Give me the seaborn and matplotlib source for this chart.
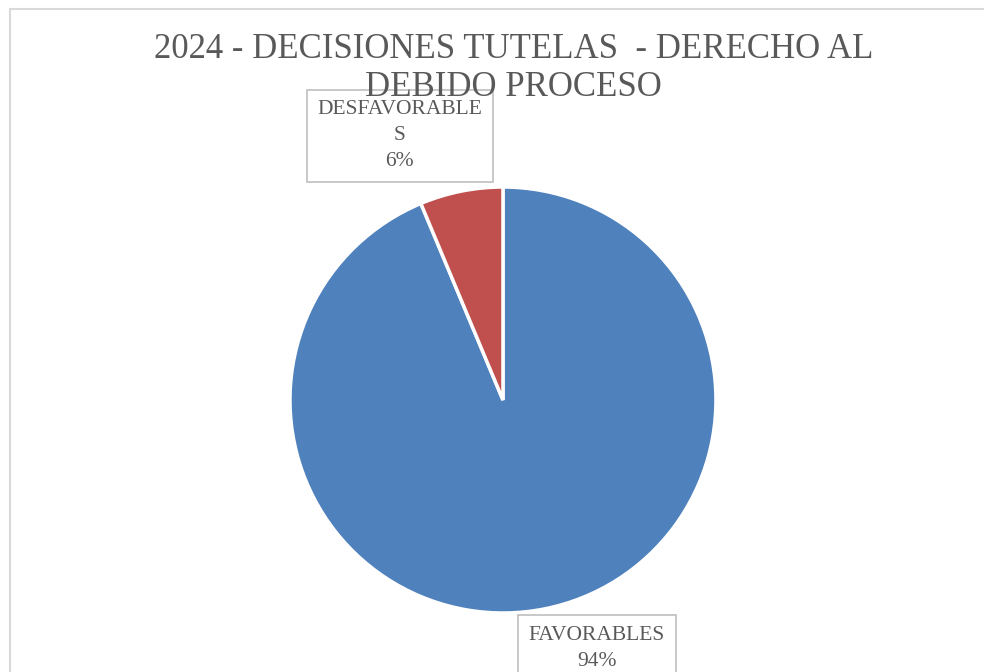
"""Pie chart: 2024 decisiones tutelas - derecho al debido proceso."""

import matplotlib

matplotlib.use("Agg")
import matplotlib.pyplot as plt
import seaborn as sns
from matplotlib.patches import Rectangle

# data
categories = ["FAVORABLES", "DESFAVORABLES"]
shares = [93.7, 6.3]
pct_labels = ["94%", "6%"]
slice_colors = ["#4F81BD", "#C0504D"]

TITLE = "2024 - DECISIONES TUTELAS  - DERECHO AL\nDEBIDO PROCESO"
TEXT_COLOR = "#595959"


def main() -> None:
    sns.set_theme(style="white")
    plt.rcParams["font.family"] = ["Liberation Serif", "DejaVu Serif"]

    fig = plt.figure(figsize=(9.84, 6.72), dpi=100)
    fig.patch.set_facecolor("white")

    # light chart-area frame that runs off the right/bottom edges
    fig.patches.append(
        Rectangle(
            (9.5 / 984, -0.1),
            1.2,
            1.1 - 9.5 / 672,
            transform=fig.transFigure,
            fill=False,
            edgecolor="#D9D9D9",
            linewidth=1.5,
        )
    )

    ax = fig.add_axes([0.2947, 0.0878, 0.4329, 0.6339])
    ax.pie(
        shares,
        colors=slice_colors,
        startangle=90,
        counterclock=False,
        radius=1.0,
        wedgeprops={"edgecolor": "white", "linewidth": 2.5},
    )
    ax.set_xlim(-1, 1)
    ax.set_ylim(-1, 1)
    ax.set_aspect("equal")
    ax.axis("off")

    box = dict(boxstyle="square,pad=0.5", facecolor="white", edgecolor="#BFBFBF", linewidth=1.2)
    label_pos = {"FAVORABLES": (0.441, -1.165), "DESFAVORABLES": (-0.484, 1.24)}
    label_text = {"FAVORABLES": "FAVORABLES", "DESFAVORABLES": "DESFAVORABLE\nS"}
    for name, pct in zip(categories, pct_labels):
        x, y = label_pos[name]
        ax.text(
            x,
            y,
            f"{label_text[name]}\n{pct}",
            ha="center",
            va="center",
            fontsize=15.5,
            color=TEXT_COLOR,
            linespacing=1.5,
            bbox=box,
            clip_on=False,
            zorder=5,
        )

    fig.text(
        0.522,
        0.898,
        TITLE,
        ha="center",
        va="center",
        fontsize=25,
        color=TEXT_COLOR,
        linespacing=1.22,
        zorder=10,
    )

    fig.savefig("out.png", dpi=100)
    plt.close(fig)


if __name__ == "__main__":
    main()
